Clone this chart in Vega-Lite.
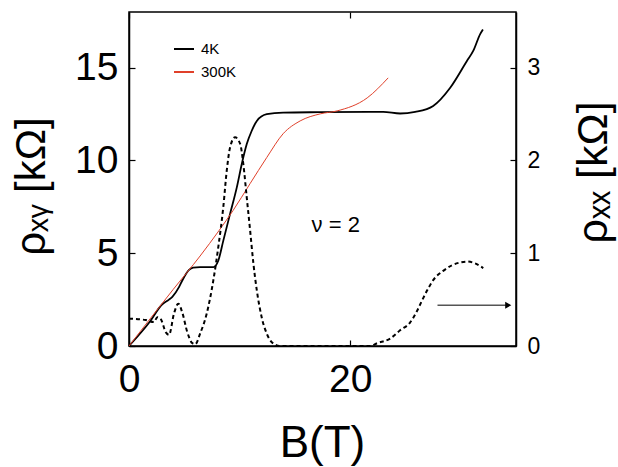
{
  "$schema": "https://vega.github.io/schema/vega-lite/v6.json",
  "width": 387,
  "height": 334,
  "autosize": {"type": "none"},
  "padding": {"left": 129, "top": 12, "right": 102, "bottom": 121},
  "config": {
    "view": {"stroke": "black", "strokeWidth": 1.5},
    "font": "Liberation Sans",
    "axis": {
      "grid": false,
      "domainColor": "black",
      "domainWidth": 1.5,
      "tickColor": "black",
      "tickWidth": 1.2,
      "tickSize": -6,
      "labelColor": "black",
      "titleColor": "black",
      "labelFont": "Liberation Sans",
      "titleFont": "Liberation Sans",
      "titleFontWeight": "normal",
      "labelFlush": false
    },
    "legend": {
      "orient": "none",
      "legendX": 44,
      "legendY": 26,
      "title": null,
      "symbolType": "stroke",
      "symbolSize": 400,
      "symbolStrokeWidth": 2,
      "labelFontSize": 15,
      "labelFont": "Liberation Sans",
      "labelColor": "black",
      "rowPadding": 4,
      "labelOffset": 6,
      "padding": 0
    }
  },
  "datasets": {
    "rxy": [
      {"B": 0, "rho": 0, "T": "4K"},
      {"B": 1.81, "rho": 1.25, "T": "4K"},
      {"B": 3.01, "rho": 2.25, "T": "4K"},
      {"B": 3.62, "rho": 2.5, "T": "4K"},
      {"B": 3.92, "rho": 2.65, "T": "4K"},
      {"B": 4.52, "rho": 3.17, "T": "4K"},
      {"B": 4.82, "rho": 3.53, "T": "4K"},
      {"B": 5.43, "rho": 4.1, "T": "4K"},
      {"B": 5.8, "rho": 4.22, "T": "4K"},
      {"B": 6.43, "rho": 4.25, "T": "4K"},
      {"B": 7.63, "rho": 4.25, "T": "4K"},
      {"B": 8.08, "rho": 4.61, "T": "4K"},
      {"B": 8.53, "rho": 5.68, "T": "4K"},
      {"B": 9.14, "rho": 7.12, "T": "4K"},
      {"B": 9.75, "rho": 8.55, "T": "4K"},
      {"B": 10.2, "rho": 9.81, "T": "4K"},
      {"B": 10.65, "rho": 10.88, "T": "4K"},
      {"B": 11.1, "rho": 11.6, "T": "4K"},
      {"B": 11.56, "rho": 12.13, "T": "4K"},
      {"B": 12.46, "rho": 12.49, "T": "4K"},
      {"B": 13.94, "rho": 12.58, "T": "4K"},
      {"B": 17.29, "rho": 12.6, "T": "4K"},
      {"B": 22.99, "rho": 12.62, "T": "4K"},
      {"B": 24.52, "rho": 12.53, "T": "4K"},
      {"B": 25.88, "rho": 12.62, "T": "4K"},
      {"B": 27.51, "rho": 12.94, "T": "4K"},
      {"B": 29.05, "rho": 13.92, "T": "4K"},
      {"B": 30.56, "rho": 15.36, "T": "4K"},
      {"B": 31.13, "rho": 15.9, "T": "4K"},
      {"B": 31.76, "rho": 16.81, "T": "4K"},
      {"B": 32.01, "rho": 17.06, "T": "4K"},
      {"B": 0, "rho": 0, "T": "300K"},
      {"B": 4.0, "rho": 3.05, "T": "300K"},
      {"B": 6.43, "rho": 4.85, "T": "300K"},
      {"B": 8.14, "rho": 6.22, "T": "300K"},
      {"B": 9.41, "rho": 7.3, "T": "300K"},
      {"B": 10.95, "rho": 8.75, "T": "300K"},
      {"B": 12.46, "rho": 10.16, "T": "300K"},
      {"B": 13.94, "rho": 11.44, "T": "300K"},
      {"B": 15.48, "rho": 12.13, "T": "300K"},
      {"B": 17.29, "rho": 12.51, "T": "300K"},
      {"B": 18.82, "rho": 12.67, "T": "300K"},
      {"B": 21.54, "rho": 13.37, "T": "300K"},
      {"B": 23.44, "rho": 14.45, "T": "300K"}
    ],
    "rxx": [
      {"B": 0, "rho": 0.295},
      {"B": 1.51, "rho": 0.28},
      {"B": 2.26, "rho": 0.258},
      {"B": 2.56, "rho": 0.31},
      {"B": 2.87, "rho": 0.29},
      {"B": 3.32, "rho": 0.15},
      {"B": 3.62, "rho": 0.12},
      {"B": 4.07, "rho": 0.35},
      {"B": 4.46, "rho": 0.456},
      {"B": 4.82, "rho": 0.36},
      {"B": 5.27, "rho": 0.15},
      {"B": 5.73, "rho": 0.03},
      {"B": 6.0, "rho": 0.02},
      {"B": 6.43, "rho": 0.133},
      {"B": 7.03, "rho": 0.35},
      {"B": 7.63, "rho": 0.71},
      {"B": 8.08, "rho": 1.07},
      {"B": 8.53, "rho": 1.5},
      {"B": 8.84, "rho": 1.89},
      {"B": 9.14, "rho": 2.14},
      {"B": 9.59, "rho": 2.25},
      {"B": 10.05, "rho": 2.18},
      {"B": 10.34, "rho": 1.96},
      {"B": 10.65, "rho": 1.6},
      {"B": 10.95, "rho": 1.25},
      {"B": 11.25, "rho": 0.89},
      {"B": 11.56, "rho": 0.6},
      {"B": 12.0, "rho": 0.31},
      {"B": 12.46, "rho": 0.133},
      {"B": 13.06, "rho": 0.026},
      {"B": 13.67, "rho": 0},
      {"B": 21.8, "rho": 0},
      {"B": 22.44, "rho": 0.03},
      {"B": 23.62, "rho": 0.08},
      {"B": 24.52, "rho": 0.17},
      {"B": 25.4, "rho": 0.25},
      {"B": 26.06, "rho": 0.38},
      {"B": 26.5, "rho": 0.49},
      {"B": 26.97, "rho": 0.6},
      {"B": 27.51, "rho": 0.71},
      {"B": 28.42, "rho": 0.81},
      {"B": 29.2, "rho": 0.87},
      {"B": 29.95, "rho": 0.9},
      {"B": 30.59, "rho": 0.91},
      {"B": 31.3, "rho": 0.89},
      {"B": 32.04, "rho": 0.84}
    ],
    "arrow": [
      {"B": 27.9, "rho": 0.44},
      {"B": 34.3, "rho": 0.44}
    ],
    "head": [
      {"B": 34.3, "rho": 0.44}
    ],
    "label": [
      {"B": 18.7, "rho": 6.5, "text": "ν = 2"}
    ]
  },
  "layer": [
    {
      "layer": [
        {
          "data": {"name": "rxy"},
          "mark": {"type": "line", "strokeWidth": 1.8, "interpolate": "monotone"},
          "transform": [{"filter": "datum.T === '4K'"}],
          "encoding": {
            "x": {"field": "B", "type": "quantitative", "scale": {"domain": [0, 35], "nice": false, "zero": false},
              "axis": {"orient": "bottom", "values": [0, 20], "labelFontSize": 39, "labelPadding": 20, "title": "B(T)", "titleFontSize": 44, "titleX": 193, "titleY": 110, "titleBaseline": "alphabetic", "titleAlign": "center"}},
            "y": {"field": "rho", "type": "quantitative", "scale": {"domain": [0, 18], "nice": false},
              "axis": {"orient": "left", "values": [0, 5, 10, 15], "labelFontSize": 39, "labelPadding": 17, "labelBaseline": "middle", "title": "ρₓᵧ  [kΩ]", "titleFontSize": 42, "titleAngle": -90, "titleX": -98, "titleY": 174, "titleAlign": "center", "titleBaseline": "middle"}},
            "color": {"field": "T", "type": "nominal", "scale": {"domain": ["4K", "300K"], "range": ["black", "#e0402a"]}}
          }
        },
        {
          "data": {"name": "rxy"},
          "mark": {"type": "line", "strokeWidth": 1, "interpolate": "monotone"},
          "transform": [{"filter": "datum.T === '300K'"}],
          "encoding": {
            "x": {"field": "B", "type": "quantitative"},
            "y": {"field": "rho", "type": "quantitative"},
            "color": {"field": "T", "type": "nominal"}
          }
        },
        {
          "data": {"name": "label"},
          "mark": {"type": "text", "fontSize": 22, "font": "Liberation Sans", "color": "black", "align": "center", "baseline": "middle"},
          "encoding": {
            "x": {"field": "B", "type": "quantitative"},
            "y": {"field": "rho", "type": "quantitative"},
            "text": {"field": "text"}
          }
        }
      ]
    },
    {
      "layer": [
        {
          "data": {"name": "rxx"},
          "mark": {"type": "line", "strokeWidth": 2, "strokeDash": [4, 3], "color": "black", "interpolate": "monotone"},
          "encoding": {
            "x": {"field": "B", "type": "quantitative",
              "axis": {"orient": "top", "values": [0, 20], "labels": false, "domain": false, "title": null}},
            "y": {"field": "rho", "type": "quantitative", "scale": {"domain": [0, 3.6], "nice": false},
              "axis": {"orient": "right", "values": [0, 1, 2, 3], "format": "d", "labelFontSize": 23, "labelPadding": 17, "labelBaseline": "middle", "title": "ρₓₓ  [kΩ]", "titleFontSize": 43, "titleAngle": -90, "titleX": 77, "titleY": 160, "titleAlign": "center", "titleBaseline": "middle"}}
          }
        },
        {
          "data": {"name": "arrow"},
          "mark": {"type": "line", "strokeWidth": 1.5, "color": "#555555"},
          "encoding": {
            "x": {"field": "B", "type": "quantitative"},
            "y": {"field": "rho", "type": "quantitative"}
          }
        },
        {
          "data": {"name": "head"},
          "mark": {"type": "point", "shape": "triangle-right", "filled": true, "size": 50, "color": "black", "opacity": 1},
          "encoding": {
            "x": {"field": "B", "type": "quantitative"},
            "y": {"field": "rho", "type": "quantitative"}
          }
        }
      ]
    }
  ],
  "resolve": {"scale": {"y": "independent"}, "axis": {"y": "independent", "x": "independent"}}
}
